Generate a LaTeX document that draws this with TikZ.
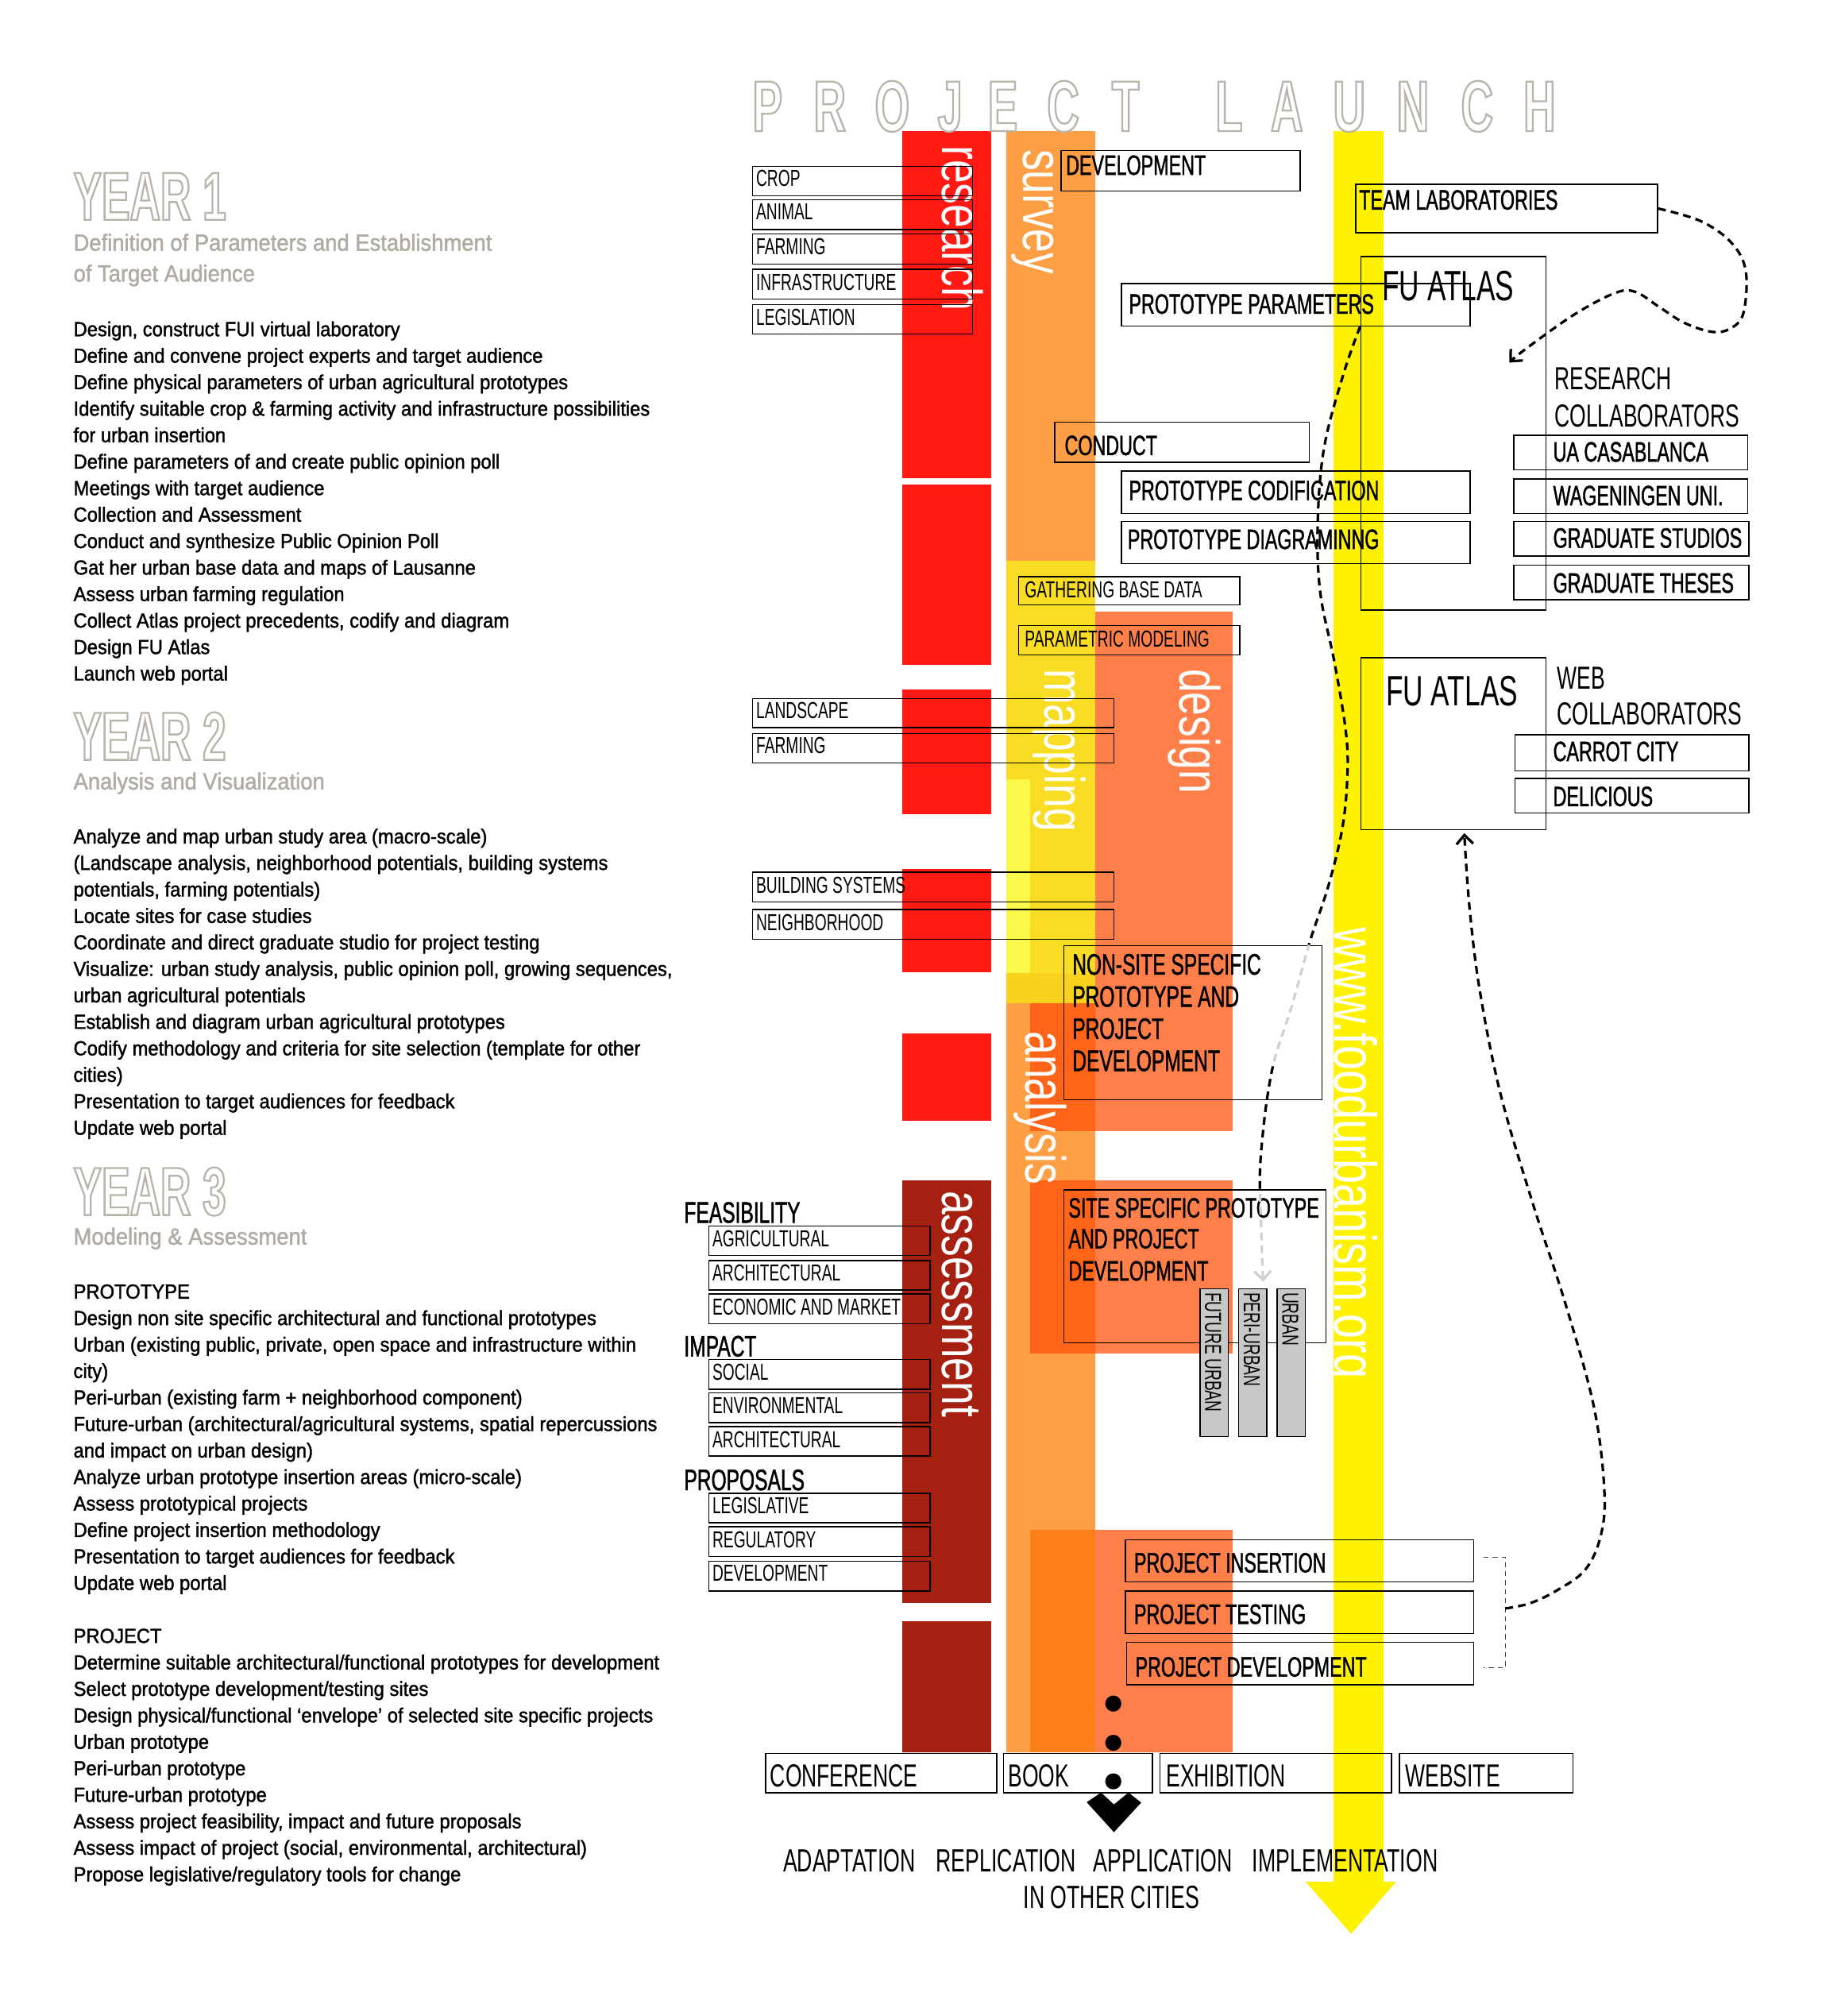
\documentclass[tikz,border=0pt]{standalone}
\usepackage{fontspec}
\setmainfont{Liberation Sans}
\newfontfamily\bodyf{Liberation Sans}[FakeStretch=0.93, FakeBold=1.5]
\newfontfamily\condf{Liberation Sans}[FakeStretch=0.66]
\newfontfamily\condbf{Liberation Sans}[FakeStretch=0.66, FakeBold=1.2]
\newfontfamily\colf{Liberation Sans}[FakeStretch=0.75]
\newfontfamily\headf{Liberation Sans}[FakeStretch=0.62]
\usetikzlibrary{arrows.meta}
\definecolor{cred}{RGB}{255,26,20}
\definecolor{cdark}{RGB}{165,32,16}
\definecolor{corange}{RGB}{255,159,69}
\definecolor{cmap}{RGB}{249,221,36}
\definecolor{clight}{RGB}{250,248,74}
\definecolor{cmapd}{RGB}{248,210,28}
\definecolor{ccoral}{RGB}{255,127,74}
\definecolor{cover}{RGB}{255,100,24}
\definecolor{cover2}{RGB}{253,127,26}
\definecolor{cyel}{RGB}{255,242,0}
\definecolor{ctag}{RGB}{200,200,200}
\definecolor{cout}{RGB}{184,180,170}
\definecolor{csub}{RGB}{176,172,164}
\definecolor{cline}{RGB}{208,208,208}
\newcommand\outl[1]{\special{pdf:literal direct 1 Tr 1.4 w}#1\special{pdf:literal direct 0 Tr}}
\tikzset{
 body/.style={font=\bodyf\fontsize{15.8}{18}\selectfont, inner sep=0pt, anchor=base west},
 subt/.style={font=\bodyf\fontsize{18.2}{20}\selectfont, text=csub, inner sep=0pt, anchor=base west},
 yr/.style={font=\headf\bfseries\fontsize{53}{60}\selectfont, text=cout, inner sep=0pt, anchor=base west},
 hdr/.style={font=\headf\bfseries\fontsize{56}{60}\selectfont, text=cout, inner sep=0pt, anchor=base},
 collbl/.style={font=\colf\fontsize{44}{48}\selectfont, text=white, inner sep=0pt, anchor=base west, rotate=-90},
 ls/.style={font=\condf\fontsize{18}{20}\selectfont, inner sep=0pt, anchor=base west},
 lm/.style={font=\condbf\fontsize{21.8}{24}\selectfont, inner sep=0pt, anchor=base west},
 lf/.style={font=\condbf\fontsize{23}{25}\selectfont, inner sep=0pt, anchor=base west},
 ll/.style={font=\condf\fontsize{24.8}{28}\selectfont, inner sep=0pt, anchor=base west},
 lx/.style={font=\condf\fontsize{33}{36}\selectfont, inner sep=0pt, anchor=base west},
 box/.style={draw, line width=0.9pt, inner sep=0pt, anchor=north west},
 tagbox/.style={draw, fill=ctag, line width=0.9pt, inner sep=0pt, anchor=north west, minimum width=22pt, minimum height=115pt},
 blackdot/.style={circle, fill=black, inner sep=0pt, minimum size=12.5pt},
 dcurve/.style={line width=2pt, dash pattern=on 6pt off 4pt},
 bracket/.style={line width=0.6pt, dash pattern=on 4pt off 3pt, black!75},
 tip/.style={-{Straight Barb[length=7pt,width=13pt]}}
}
\newcommand\boxlbl[9]{%
  \node[box, minimum width=#4pt, minimum height=#5pt] (#1) at (#2,#3) {};
  \node[#6] (#1-t) at (#7,#8) {#9};}
\newcommand\midcurve[1]{\draw[dcurve,#1,tip] plot[smooth,tension=0.6] coordinates {(mstart) (1045,291) (1030,348) (1025,407) (1027,461) (1038,515) (1047,570) (1048,605) (1044,645) (1033,690) (1019,732) (1005,782) (992,822) (986,852) (982,885) (980,915) (981,955) (tipB)};}
\begin{document}
\begin{tikzpicture}[x=1pt,y=-1pt]
\fill[white] (0,0) rectangle (1435,1568);
\useasboundingbox (0,0) rectangle (1435,1568);

% ---------- columns ----------
\fill[cred] (702,102) rectangle (771,372);
\fill[cred] (702,377) rectangle (771,517);
\fill[cred] (702,536) rectangle (771,633);
\fill[cred] (702,676) rectangle (771,756);
\fill[cred] (702,804) rectangle (771,872);
\fill[cdark] (702,918) rectangle (771,1247);
\fill[cdark] (702,1261) rectangle (771,1363);
\fill[corange] (783,102) rectangle (852,1363);
\fill[cmap] (783,436) rectangle (852,780);
\fill[clight] (783,606) rectangle (801,757);
\fill[cmapd] (783,757) rectangle (852,780);
\fill[ccoral] (852,476) rectangle (959,880);
\fill[cover] (801,780) rectangle (852,880);
\fill[ccoral] (852,918) rectangle (959,1053);
\fill[cover] (801,918) rectangle (852,1053);
\fill[ccoral] (852,1190) rectangle (959,1363);
\fill[cover2] (801,1190) rectangle (852,1363);
\fill[cyel] (1037,102) rectangle (1076,1464);
\fill[cyel] (1015.6,1463.5) -- (1086,1463.5) -- (1051,1504) -- cycle;

% ---------- column labels ----------
\node[collbl] (lres) at (733,113) {research};
\node[collbl] (lsur) at (796,116) {survey};
\node[collbl] (lmap) at (813,520) {mapping};
\node[collbl] (ldes) at (918,520) {design};
\node[collbl] (lana) at (798,802) {analysis};
\node[collbl] (lass) at (733,926) {assessment};
\node[collbl, font=\colf\fontsize{46}{48}\selectfont] (lweb) at (1038,721) {www.foodurbanism.org};

% ---------- outlined titles (drawn first) ----------
\foreach \c/\x [count=\i] in {P/597,R/645.5,O/694,J/739,E/780,C/827,T/875.5,L/956,A/1001,U/1049.5,N/1099,C/1149,H/1197.5}
  \node[hdr] (pl\i) at (\x,102) {\outl{\c}};
\node[yr] (yr1) at (57,171) {\outl{YEAR 1}};
\node[yr] (yr2) at (57,591) {\outl{YEAR 2}};
\node[yr] (yr3) at (57,945) {\outl{YEAR 3}};

% ---------- left column ----------
\node[subt] (s1a) at (57,195) {Definition of Parameters and Establishment};
\node[subt] (s1b) at (57,219) {of Target Audience};
\foreach \t [count=\i] in {{Design, construct FUI virtual laboratory},
 {Define and convene project experts and target audience},
 {Define physical parameters of urban agricultural prototypes},
 {Identify suitable crop \& farming activity and infrastructure possibilities},
 {for urban insertion},
 {Define parameters of and create public opinion poll},
 {Meetings with target audience},
 {Collection and Assessment},
 {Conduct and synthesize Public Opinion Poll},
 {Gat her urban base data and maps of Lausanne},
 {Assess urban farming regulation},
 {Collect Atlas project precedents, codify and diagram},
 {Design FU Atlas},
 {Launch web portal}}
  \node[body] (ya\i) at (57,{261.5+(\i-1)*20.6}) {\t};

\node[subt] (s2) at (57,614) {Analysis and Visualization};
\foreach \t [count=\i] in {{Analyze and map urban study area (macro-scale)},
 {(Landscape analysis, neighborhood potentials, building systems},
 {potentials, farming potentials)},
 {Locate sites for case studies},
 {Coordinate and direct graduate studio for project testing},
 {Visualize: urban study analysis, public opinion poll, growing sequences,},
 {urban agricultural potentials},
 {Establish and diagram urban agricultural prototypes},
 {Codify methodology and criteria for site selection (template for other},
 {cities)},
 {Presentation to target audiences for feedback},
 {Update web portal}}
  \node[body] (yb\i) at (57,{656+(\i-1)*20.6}) {\t};

\node[subt] (s3) at (57,968) {Modeling \& Assessment};
\foreach \t [count=\i] in {{PROTOTYPE},
 {Design non site specific architectural and functional prototypes},
 {Urban (existing public, private, open space and infrastructure within},
 {city)},
 {Peri-urban (existing farm + neighborhood component)},
 {Future-urban (architectural/agricultural systems, spatial repercussions},
 {and impact on urban design)},
 {Analyze urban prototype insertion areas (micro-scale)},
 {Assess prototypical projects},
 {Define project insertion methodology},
 {Presentation to target audiences for feedback},
 {Update web portal},
 {},
 {PROJECT},
 {Determine suitable architectural/functional prototypes for development},
 {Select prototype development/testing sites},
 {Design physical/functional ‘envelope’ of selected site specific projects},
 {Urban prototype},
 {Peri-urban prototype},
 {Future-urban prototype},
 {Assess project feasibility, impact and future proposals},
 {Assess impact of project (social, environmental, architectural)},
 {Propose legislative/regulatory tools for change}}
  \node[body] (yc\i) at (57,{1010+(\i-1)*20.6}) {\t};

% ---------- research boxes ----------
\boxlbl{crop}{585}{129}{171}{23}{ls}{588}{145}{CROP}
\boxlbl{animal}{585}{155}{171}{23}{ls}{588}{171}{ANIMAL}
\boxlbl{farm}{585}{181.5}{171}{23.5}{ls}{588}{198}{FARMING}
\boxlbl{infra}{585}{209}{171}{23}{ls}{588}{225.5}{INFRASTRUCTURE}
\boxlbl{legis}{585}{236.5}{171}{23}{ls}{588}{253}{LEGISLATION}

% ---------- survey / upper boxes ----------
\boxlbl{devel}{825}{116.5}{186}{31.5}{lm}{829}{136}{DEVELOPMENT}
\boxlbl{teamlab}{1054}{143}{235}{37.5}{lm}{1057}{163}{TEAM LABORATORIES}
\boxlbl{protopar}{872}{220}{271}{33}{lm}{878}{244}{PROTOTYPE PARAMETERS}
\node[box, minimum width=144pt, minimum height=275pt] (atlas1) at (1058,199) {};
\node[lx] (atlas1-t) at (1075,234) {FU ATLAS};
\node[ll] (rc1) at (1209,303) {RESEARCH};
\node[ll] (rc2) at (1209,332) {COLLABORATORS};
\boxlbl{uacasa}{1177}{338}{182}{27}{lm}{1208}{359}{UA CASABLANCA}
\boxlbl{wagen}{1177}{372}{182}{27}{lm}{1208}{393}{WAGENINGEN UNI.}
\boxlbl{gstud}{1177}{405}{183}{27}{lm}{1208}{426}{GRADUATE STUDIOS}
\boxlbl{gthes}{1177}{439}{183}{27}{lm}{1208}{461}{GRADUATE THESES}
\boxlbl{conduct}{820}{328}{198}{31}{lm}{828}{354}{CONDUCT}
\boxlbl{protocod}{872}{366}{271}{33}{lm}{878}{389}{PROTOTYPE CODIFICATION}
\boxlbl{protodia}{872}{405}{271}{33}{lm}{877}{427}{PROTOTYPE DIAGRAMINNG}
\boxlbl{gather}{792}{448}{172}{22}{ls}{797}{465}{GATHERING BASE DATA}
\boxlbl{parmod}{792}{486}{172}{23}{ls}{797}{503}{PARAMETRIC MODELING}
\boxlbl{landsc}{585}{543}{281}{22.5}{ls}{588}{558.5}{LANDSCAPE}
\boxlbl{farm2}{585}{570}{281}{23}{ls}{588}{586}{FARMING}
\boxlbl{bsys}{585}{678}{281}{23}{ls}{588}{695}{BUILDING SYSTEMS}
\boxlbl{neigh}{585}{707}{281}{23}{ls}{588}{724}{NEIGHBORHOOD}
\node[box, minimum width=144pt, minimum height=134pt] (atlas2) at (1058,511) {};
\node[lx] (atlas2-t) at (1078,549) {FU ATLAS};
\node[ll] (wc1) at (1211,536) {WEB};
\node[ll] (wc2) at (1211,564) {COLLABORATORS};
\boxlbl{carrot}{1178}{571}{182}{28}{lm}{1208}{592}{CARROT CITY}
\boxlbl{delic}{1178}{605}{182}{27}{lm}{1208}{627}{DELICIOUS}

% ---------- prototype boxes ----------
\node[box, minimum width=201pt, minimum height=120pt] (nonsite) at (827,735) {};
\node[lf] (ns1) at (834,758) {NON-SITE SPECIFIC};
\node[lf] (ns2) at (834,783) {PROTOTYPE AND};
\node[lf] (ns3) at (834,808) {PROJECT};
\node[lf] (ns4) at (834,833) {DEVELOPMENT};
\node[box, minimum width=204pt, minimum height=119pt] (site) at (827,925) {};
\node[lm] (ss1) at (831,947) {SITE SPECIFIC PROTOTYPE};
\node[lm] (ss2) at (831,971) {AND PROJECT};
\node[lm] (ss3) at (831,996) {DEVELOPMENT};
\node[tagbox] (tagfu) at (933,1002) {};
\node[ls, rotate=-90] (tagfu-t) at (937.5,1005) {FUTURE URBAN};
\node[tagbox] (tagpu) at (963,1002) {};
\node[ls, rotate=-90] (tagpu-t) at (967.5,1005) {PERI-URBAN};
\node[tagbox] (tagu) at (993,1002) {};
\node[ls, rotate=-90] (tagu-t) at (997.5,1005) {URBAN};

% ---------- assessment boxes ----------
\node[lf] (feas) at (532,951) {FEASIBILITY};
\boxlbl{agri}{551}{953}{172}{23}{ls}{554}{969.5}{AGRICULTURAL}
\boxlbl{archa}{551}{980}{172}{23}{ls}{554}{996}{ARCHITECTURAL}
\boxlbl{econ}{551}{1006}{172}{23}{ls}{554}{1022.5}{ECONOMIC AND MARKET}
\node[lf] (impact) at (532,1055) {IMPACT};
\boxlbl{social}{551}{1057}{172}{23}{ls}{554}{1073.5}{SOCIAL}
\boxlbl{envir}{551}{1083}{172}{23}{ls}{554}{1099.5}{ENVIRONMENTAL}
\boxlbl{archb}{551}{1109}{172}{23}{ls}{554}{1126}{ARCHITECTURAL}
\node[lf] (propos) at (532,1159) {PROPOSALS};
\boxlbl{legisl}{551}{1161}{172}{23}{ls}{554}{1177.5}{LEGISLATIVE}
\boxlbl{regul}{551}{1187}{172}{23}{ls}{554}{1203.5}{REGULATORY}
\boxlbl{devb}{551}{1214}{172}{23}{ls}{554}{1230}{DEVELOPMENT}

% ---------- project boxes ----------
\boxlbl{pins}{875}{1197}{271}{33}{lm}{882}{1223}{PROJECT INSERTION}
\boxlbl{ptest}{875}{1237}{271}{33}{lm}{882}{1263}{PROJECT TESTING}
\boxlbl{pdev}{876}{1277}{270}{33}{lm}{883}{1304}{PROJECT DEVELOPMENT}

% ---------- dots and chevron ----------
\node[blackdot] (dot1) at (866,1325) {};
\node[blackdot] (dot2) at (866,1355.5) {};
\node[blackdot] (dot3) at (866,1385.5) {};
\fill (845.3,1401.7) -- (856.5,1394.2) -- (866.5,1403.5) -- (877.8,1394.2) -- (887.7,1402) -- (866.5,1425) -- cycle;

% ---------- bottom boxes ----------
\boxlbl{conf}{595}{1363.5}{180}{30.5}{ll}{599}{1390}{CONFERENCE}
\boxlbl{book}{780}{1363.5}{116}{30.5}{ll}{784}{1390}{BOOK}
\boxlbl{exhib}{902}{1363.5}{180}{30.5}{ll}{907}{1390}{EXHIBITION}
\boxlbl{website}{1088}{1363.5}{135}{30.5}{ll}{1093}{1390}{WEBSITE}
\node[ll, font=\condf\fontsize{25}{28}\selectfont] (w1) at (609,1456) {ADAPTATION};
\node[ll, font=\condf\fontsize{25}{28}\selectfont] (w2) at (728,1456) {REPLICATION};
\node[ll, font=\condf\fontsize{25}{28}\selectfont] (w3) at (850.5,1456) {APPLICATION};
\node[ll, font=\condf\fontsize{25}{28}\selectfont] (w4) at (974,1456) {IMPLEMENTATION};
\node[ll, font=\condf\fontsize{25}{28}\selectfont] (w5) at (796,1484) {IN OTHER CITIES};

% ---------- connectors ----------
\coordinate (tipA) at (1174,282);
\coordinate (tipB) at (982.5,997);
\coordinate (tipC) at (1139,648);
\coordinate (bstart) at (1171,1251);
\coordinate (mstart) at (protopar.south -| atlas1.west);
\coordinate (br1) at (1154,1211);
\coordinate (br2) at (1171,1211);
\coordinate (br3) at (1171,1297);
\coordinate (br4) at (1154,1297);

\draw[dcurve,tip] plot[smooth,tension=0.6] coordinates {(teamlab.east) (1323,172) (1347,189) (1358,211) (1356,244) (1345,256) (1331,258) (1310,251) (1291,239) (1272,227) (1256,228) (1224,245) (1186,272) (tipA)};

\begin{scope}[even odd rule]
  \clip (0,0) rectangle (1435,1568) (827,735) rectangle (1028,826) (827,925) rectangle (1031,1044);
  \midcurve{black}
\end{scope}
\begin{scope}
  \clip (827,735) rectangle (1028,826) (827,925) rectangle (1031,1044);
  \midcurve{cline}
\end{scope}

\draw[bracket] (br1) -- (br2) -- (br3) -- (br4);
\draw[dcurve,tip] plot[smooth,tension=0.6] coordinates {(bstart) (1190,1247) (1211,1237) (1233,1221) (1245,1195) (1248,1160) (1240,1095) (1218,1015) (1192,935) (1167,850) (1151,770) (1143,705) (tipC)};
\end{tikzpicture}
\end{document}
